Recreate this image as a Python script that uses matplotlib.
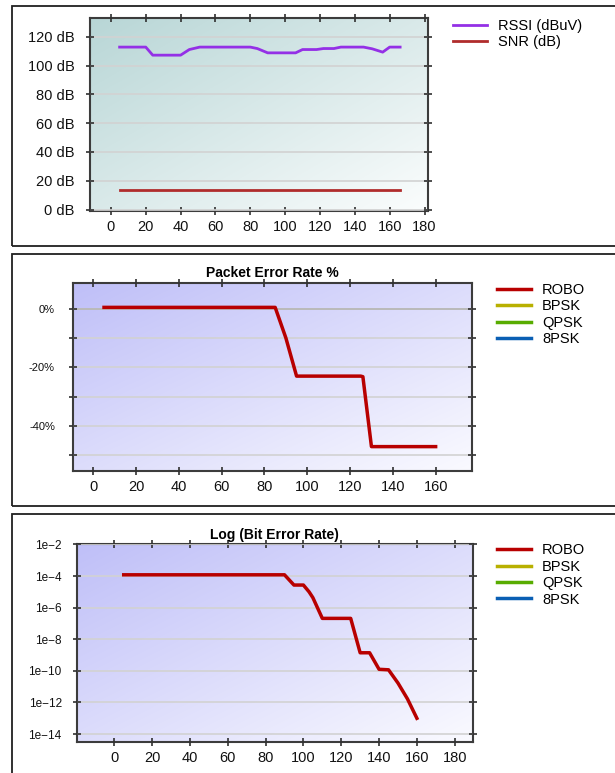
import numpy as np
import matplotlib.pyplot as plt
from matplotlib.patches import Rectangle
from matplotlib.colors import LinearSegmentedColormap

plt.rcParams['font.family'] = ['Liberation Sans', 'DejaVu Sans']

# signal levels
sig_x = [5, 10, 15, 20, 24, 30, 35, 40, 45, 51, 60, 70, 80, 84, 90, 95, 100, 106,
         110, 115, 118, 122, 128, 132, 140, 145, 150, 156, 160, 166]
rssi = [112.8, 112.8, 112.8, 112.8, 107.2, 107.2, 107.2, 107.2, 111.1, 112.8, 112.8,
        112.8, 112.8, 111.8, 108.8, 108.8, 108.8, 108.8, 111.1, 111.1, 111.1, 111.8,
        111.8, 112.8, 112.8, 112.8, 111.6, 109.3, 112.8, 112.8]
snr_x = [5, 166]
snr = [13.7, 13.7]

# packet error rate
per_x = [5, 20, 40, 60, 80, 85, 90, 95, 100, 110, 120, 125, 126, 130, 140, 150, 160]
per_robo = [0.4, 0.4, 0.4, 0.4, 0.4, 0.4, -10, -23, -23, -23, -23, -23, -23.2, -47, -47, -47, -47]

# bit error rate
ber_x = [5, 20, 40, 60, 80, 90, 95, 100, 103, 105, 110, 115, 120, 125, 130, 135, 140,
         145, 150, 155, 160]
ber_robo = [1.2e-4, 1.2e-4, 1.2e-4, 1.2e-4, 1.2e-4, 1.2e-4, 2.7e-5, 2.7e-5, 1.0e-5,
            4.3e-6, 2.1e-7, 2.1e-7, 2.1e-7, 2.1e-7, 1.4e-9, 1.4e-9, 1.26e-10, 1.17e-10,
            1.7e-11, 1.7e-12, 1.0e-13]

mod_names = ['ROBO', 'BPSK', 'QPSK', '8PSK']
mod_colors = ['#b80000', '#b8b000', '#58ac00', '#0a5fb4']

W, H = 615, 773
fig = plt.figure(figsize=(W / 100, H / 100), dpi=100)
fig.patch.set_facecolor('white')


def box(x0, y0, x1, y1):
    return [x0 / W, 1 - y1 / H, (x1 - x0) / W, (y1 - y0) / H]


# panel frames
for (y0, y1) in [(6, 246), (254, 506), (514, 780)]:
    fig.patches.append(Rectangle((12 / W, 1 - y1 / H), 700 / W, (y1 - y0) / H,
                                 transform=fig.transFigure, fill=False,
                                 edgecolor='#202020', linewidth=1.3))


def gradient(ax, c0, c1):
    # dark corner top-left, fading to near white bottom-right
    cmap = LinearSegmentedColormap.from_list('bg', [c0, c1])
    gx, gy = np.meshgrid(np.linspace(0, 1, 200), np.linspace(0, 1, 200))
    g = (gx + gy) / 2
    ax.imshow(g, cmap=cmap, extent=[0, 1, 0, 1], transform=ax.transAxes,
              aspect='auto', zorder=0, origin='upper')


def style(ax):
    for s in ax.spines.values():
        s.set_color('#3c3c3c')
        s.set_linewidth(1.5)
    ax.tick_params(direction='inout', length=6, width=1.2, color='#303030',
                   top=True, right=True, labelsize=9.5, labelcolor='#111111')
    ax.grid(axis='y', color='#d2d2d2', linewidth=1.2, zorder=1)
    ax.set_axisbelow(False)


def legend(ax, x, y):
    ax.legend(loc='upper left', bbox_to_anchor=(x, y), frameon=False,
              fontsize=10.5, handlelength=2.35, handletextpad=0.75,
              labelspacing=0.16, borderaxespad=0, borderpad=0)


# signal panel
ax1 = fig.add_axes(box(90, 18, 428, 211))
gradient(ax1, '#b8d6d6', '#fbfdfd')
ax1.plot(sig_x, rssi, color='#9430e6', linewidth=2, label='RSSI (dBuV)', zorder=3)
ax1.plot(snr_x, snr, color='#b02c2c', linewidth=2, label='SNR (dB)', zorder=3)
ax1.set_xlim(-12, 182)
ax1.set_ylim(-1, 133)
ax1.set_xticks(range(0, 181, 20))
ax1.set_yticks(range(0, 121, 20))
ax1.set_yticklabels([f'{v} dB' for v in range(0, 121, 20)])
style(ax1)
ax1.tick_params(axis='y', labelsize=10.5, pad=8)
ax1.tick_params(axis='x', labelsize=10.5)
legend(ax1, (453 - 90) / 338, 1 - (19 - 18) / 193)

# packet error rate panel
ax2 = fig.add_axes(box(73, 283, 472, 471))
gradient(ax2, '#bfbff8', '#fafaff')
ax2.axhline(0, color='#404040', linewidth=1.4, zorder=2)
ax2.plot(per_x, per_robo, color=mod_colors[0], linewidth=2.5, zorder=3)
for name, c in zip(mod_names, mod_colors):
    ax2.plot([], [], color=c, linewidth=2.5, label=name)
ax2.set_xlim(-9.5, 177)
ax2.set_ylim(-55.3, 8.7)
ax2.set_xticks(range(0, 161, 20))
ax2.set_yticks(range(-50, 1, 10))
ax2.set_yticklabels(['' if v % 20 else f'{v}%' for v in range(-50, 1, 10)])
style(ax2)
ax2.tick_params(axis='y', labelsize=8, pad=10)
ax2.tick_params(axis='x', labelsize=10.5)
ax2.set_title('Packet Error Rate %', fontsize=10, fontweight='bold', pad=4)
legend(ax2, (497 - 73) / 399, 1 - (283 - 283) / 188)

# bit error rate panel
ax3 = fig.add_axes(box(77, 543.5, 472.5, 742))
gradient(ax3, '#bfbff8', '#fafaff')
ax3.plot(ber_x, ber_robo, color=mod_colors[0], linewidth=2.5, zorder=3)
for name, c in zip(mod_names, mod_colors):
    ax3.plot([], [], color=c, linewidth=2.5, label=name)
ax3.set_yscale('log')
ax3.set_xlim(-19.7, 189.4)
ax3.set_ylim(10 ** -14.5, 10 ** -1.94)
ax3.set_xticks(range(0, 181, 20))
exps = list(range(-14, -1, 2))
ax3.set_yticks([10.0 ** e for e in exps])
ax3.set_yticklabels([f'1e\u2212{-e}' for e in exps])
ax3.minorticks_off()
style(ax3)
ax3.tick_params(axis='y', labelsize=8.5, pad=8)
ax3.tick_params(axis='x', labelsize=10.5)
ax3.set_title('Log (Bit Error Rate)', fontsize=10, fontweight='bold', pad=3)
legend(ax3, (497 - 77) / 395.5, 1 - (543.5 - 543.5) / 198.5)

fig.savefig('out.png', dpi=100)
